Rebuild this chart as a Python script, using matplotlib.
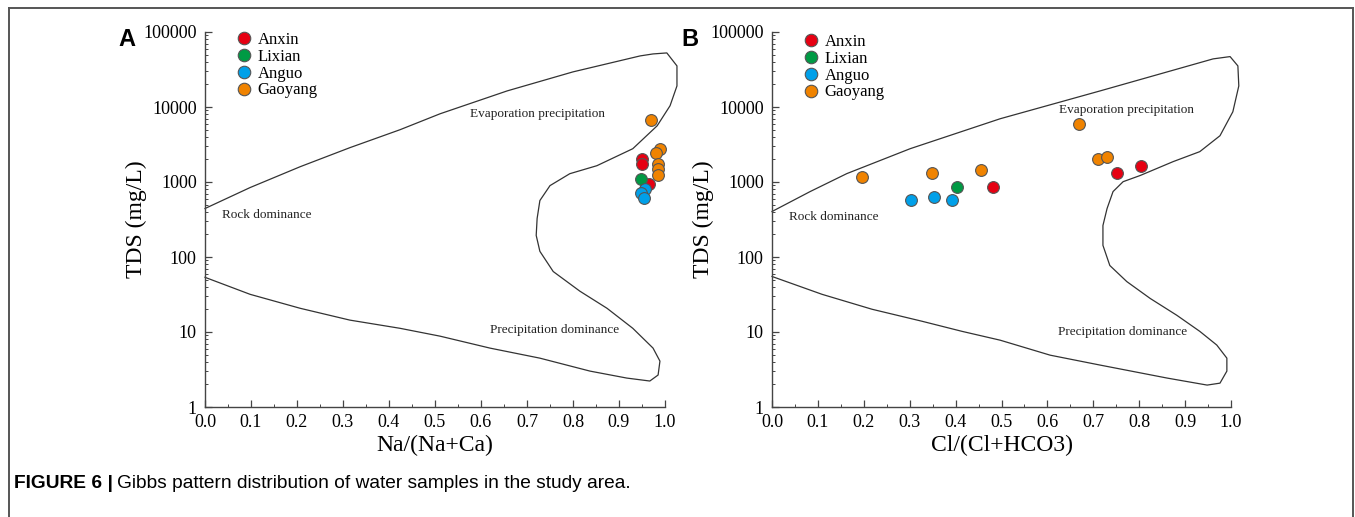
import matplotlib.pyplot as plt
from matplotlib.lines import Line2D
from matplotlib.ticker import FixedLocator, FixedFormatter, MultipleLocator, LogLocator, NullFormatter

plt.rcParams['font.family'] = ['Liberation Serif', 'DejaVu Serif']

groups = ["Anxin", "Lixian", "Anguo", "Gaoyang"]
colors = ["#e60012", "#009a44", "#00a0e9", "#f08300"]

y_ticks = [1, 10, 100, 1000, 10000, 100000]
y_tick_labels = ["1", "10", "100", "1000", "10000", "100000"]
x_ticks = [0.0, 0.1, 0.2, 0.3, 0.4, 0.5, 0.6, 0.7, 0.8, 0.9, 1.0]
x_tick_labels = ["0.0", "0.1", "0.2", "0.3", "0.4", "0.5", "0.6", "0.7", "0.8", "0.9", "1.0"]

# panel A samples, Na/(Na+Ca) vs TDS
a_x = {
    "Anxin": [0.951, 0.951, 0.966],
    "Lixian": [0.948],
    "Anguo": [0.957, 0.947, 0.955],
    "Gaoyang": [0.970, 0.989, 0.980, 0.984, 0.984, 0.984],
}
a_tds = {
    "Anxin": [2000, 1750, 950],
    "Lixian": [1080],
    "Anguo": [800, 720, 620],
    "Gaoyang": [6800, 2750, 2450, 1720, 1470, 1230],
}

# panel B samples, Cl/(Cl+HCO3) vs TDS
b_x = {
    "Anxin": [0.752, 0.803, 0.481],
    "Lixian": [0.404],
    "Anguo": [0.303, 0.354, 0.392],
    "Gaoyang": [0.197, 0.349, 0.455, 0.710, 0.730, 0.669],
}
b_tds = {
    "Anxin": [1330, 1620, 865],
    "Lixian": [858],
    "Anguo": [575, 631, 570],
    "Gaoyang": [1155, 1330, 1460, 2010, 2170, 5990],
}

# Gibbs boundary, panel A
a_curve_x = [0.000, 0.098, 0.207, 0.315, 0.424, 0.511, 0.657, 0.800, 0.946, 0.974,
             1.004, 1.026, 1.026, 1.011, 0.983, 0.930, 0.852, 0.793, 0.750, 0.728,
             0.722, 0.720, 0.728, 0.757, 0.815, 0.874, 0.930, 0.974, 0.989, 0.985,
             0.967, 0.917, 0.837, 0.728, 0.620, 0.511, 0.424, 0.315, 0.207, 0.098, 0.000]
a_curve_tds = [443, 843, 1600, 2870, 4980, 8120, 16400, 29400, 48000, 51000,
               52600, 35300, 19100, 10400, 5620, 2780, 1650, 1290, 895, 566,
               326, 194, 119, 64, 35, 20.7, 11.2, 6.1, 4.09, 2.67,
               2.22, 2.43, 3.01, 4.48, 6.09, 8.8, 11.2, 14.4, 20.7, 31.8, 53.6]

# Gibbs boundary, panel B
b_curve_x = [0.000, 0.083, 0.163, 0.301, 0.497, 0.715, 0.961, 0.998, 1.015, 1.017,
             1.004, 0.976, 0.932, 0.874, 0.802, 0.765, 0.743, 0.730, 0.721, 0.721,
             0.736, 0.773, 0.824, 0.882, 0.932, 0.969, 0.991, 0.991, 0.976, 0.948,
             0.861, 0.715, 0.606, 0.497, 0.414, 0.327, 0.218, 0.109, 0.000]
b_curve_tds = [404, 745, 1294, 2780, 6970, 16400, 43800, 47000, 35300, 19100,
               8630, 4140, 2540, 1870, 1220, 1010, 745, 443, 263, 143,
               77, 47, 28, 16.7, 10.2, 6.7, 4.48, 3.01, 2.08, 1.96,
               2.43, 3.62, 4.91, 7.78, 10.2, 13.9, 20.1, 31.8, 55]

fig = plt.figure(figsize=(13.55, 5.17), dpi=100)

# outer frame of the figure box
fr = dict(color='#555555', lw=1.4, transform=fig.transFigure)
fig.add_artist(Line2D([9 / 1355, 9 / 1355], [0, 1 - 8 / 517], **fr))
fig.add_artist(Line2D([9 / 1355, 1353 / 1355], [1 - 8 / 517, 1 - 8 / 517], **fr))
fig.add_artist(Line2D([1353 / 1355, 1353 / 1355], [0, 1 - 8 / 517], **fr))


def draw_panel(ax, xs, tds, cx, ctds, xlabel, letter, letter_x, leg_anchor, notes):
    ax.plot(cx, ctds, color='#333333', lw=0.9, clip_on=False)
    for g, c in zip(groups, colors):
        ax.scatter(xs[g], tds[g], s=72, color=c, edgecolor='#555555', linewidth=0.8,
                   zorder=3, clip_on=False)
    ax.set_yscale('log')
    ax.set_xlim(0, 1)
    ax.set_ylim(1, 100000)
    ax.yaxis.set_major_locator(FixedLocator(y_ticks))
    ax.yaxis.set_major_formatter(FixedFormatter(y_tick_labels))
    ax.yaxis.set_minor_locator(LogLocator(base=10, subs=range(2, 10)))
    ax.yaxis.set_minor_formatter(NullFormatter())
    ax.xaxis.set_major_locator(FixedLocator(x_ticks))
    ax.xaxis.set_major_formatter(FixedFormatter(x_tick_labels))
    ax.xaxis.set_minor_locator(MultipleLocator(0.05))
    for s in ['top', 'right']:
        ax.spines[s].set_visible(False)
    for s in ['left', 'bottom']:
        ax.spines[s].set_color('#444444')
        ax.spines[s].set_linewidth(1.0)
    ax.tick_params(which='major', direction='in', length=5, width=0.9, color='#444444',
                   labelsize=13)
    ax.tick_params(axis='x', which='major', pad=5)
    ax.tick_params(axis='y', which='major', pad=6)
    ax.tick_params(which='minor', direction='in', length=2.5, width=0.7, color='#444444')
    ax.set_xlabel(xlabel, fontsize=17, labelpad=3)
    ax.set_ylabel("TDS (mg/L)", fontsize=17, labelpad=-3)
    ax.text(letter_x, 0.98, letter, transform=ax.transAxes, fontsize=17, fontweight='bold',
            family='Liberation Sans', ha='center', va='center')
    handles = [Line2D([], [], ls='none', marker='o', markersize=9, markerfacecolor=c,
                      markeredgecolor='#555555', markeredgewidth=0.8) for c in colors]
    ax.legend(handles, groups, loc='upper left', bbox_to_anchor=leg_anchor, frameon=False,
              fontsize=12, handlelength=1.0, handletextpad=0.35, labelspacing=0.05,
              borderpad=0, borderaxespad=0)
    for txt, tx, ty in notes:
        ax.text(tx, ty, txt, fontsize=9.5, ha='center', va='center', color='#222222')


ax_a = fig.add_axes([205 / 1355, 110 / 517, 460 / 1355, 375 / 517])
draw_panel(ax_a, a_x, a_tds, a_curve_x, a_curve_tds, "Na/(Na+Ca)", "A", -0.17, (0.066, 1.0),
           [("Evaporation precipitation", 0.722, 8070),
            ("Rock dominance", 0.135, 363),
            ("Precipitation dominance", 0.761, 10.6)])

ax_b = fig.add_axes([772 / 1355, 110 / 517, 459 / 1355, 375 / 517])
draw_panel(ax_b, b_x, b_tds, b_curve_x, b_curve_tds, "Cl/(Cl+HCO3)", "B", -0.179, (0.066, 0.995),
           [("Evaporation precipitation", 0.773, 9120),
            ("Rock dominance", 0.135, 341),
            ("Precipitation dominance", 0.763, 10.0)])

# caption
cap1 = fig.text(14 / 1355, 33 / 517, "FIGURE 6 |", family='Liberation Sans', fontweight='bold',
                fontsize=13.8, va='center', ha='left')
fig.canvas.draw()
bb = cap1.get_window_extent()
fig.text(bb.x1 / fig.bbox.width + 4 / 1355, 33 / 517,
         "Gibbs pattern distribution of water samples in the study area.",
         family='Liberation Sans', fontsize=13.8, va='center', ha='left')

fig.savefig("out.png", dpi=100)
